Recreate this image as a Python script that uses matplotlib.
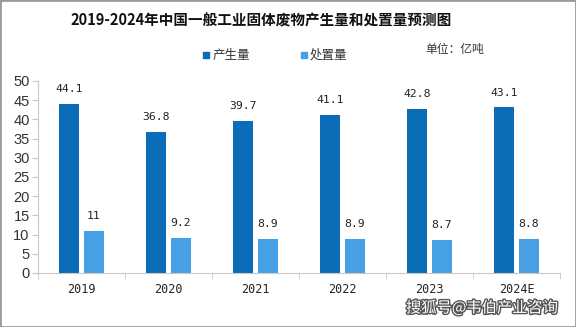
import matplotlib
matplotlib.use("Agg")
import matplotlib.pyplot as plt
import matplotlib.patheffects as pe
from matplotlib.patches import Rectangle
import numpy as np

plt.rcParams['font.family'] = ['Noto Sans CJK SC', 'DejaVu Sans']

years = ["2019", "2020", "2021", "2022", "2023", "2024E"]
generated = [44.1, 36.8, 39.7, 41.1, 42.8, 43.1]
disposed = [11, 9.2, 8.9, 8.9, 8.7, 8.8]
generated_labels = ["44.1", "36.8", "39.7", "41.1", "42.8", "43.1"]
disposed_labels = ["11", "9.2", "8.9", "8.9", "8.7", "8.8"]
yticks = [0, 5, 10, 15, 20, 25, 30, 35, 40, 45, 50]

c_dark = "#0b6cb7"
c_light = "#47a0e3"
axis_grey = "#c8c8c8"

fig = plt.figure(figsize=(5.76, 3.27), dpi=100)
ax = fig.add_axes([38 / 576, 1 - 273 / 327, 522 / 576, 192 / 327])

x = np.arange(len(years))
w = 0.23
off = 0.14
b1 = ax.bar(x - off, generated, width=w, color=c_dark)
b2 = ax.bar(x + off, disposed, width=w, color=c_light)

for bars, labels in ((b1, generated_labels), (b2, disposed_labels)):
    for rect, lab in zip(bars, labels):
        ax.annotate(lab, (rect.get_x() + rect.get_width() / 2, rect.get_height()),
                    xytext=(0, 7), textcoords="offset points", ha="center", va="bottom",
                    fontsize=8.2, family="DejaVu Sans Mono", color="#222222")

ax.set_xlim(-0.5, len(years) - 0.5)
ax.set_ylim(0, 50)
ax.set_yticks(yticks)
ax.set_yticklabels([str(t) for t in yticks], fontsize=10.5, color="#333333",
                   family="Liberation Sans")
ax.set_xticks(x)
ax.set_xticklabels(years, fontsize=8.5, color="#222222", family="DejaVu Sans Mono")
ax.tick_params(axis="x", length=0, pad=7)
ax.set_xticks(np.arange(-0.5, len(years)), minor=True)
ax.tick_params(axis="x", which="minor", length=4, color=axis_grey, direction="out")
ax.tick_params(axis="y", length=4, color=axis_grey, pad=2)

for s in ["top", "right"]:
    ax.spines[s].set_visible(False)
ax.spines["left"].set_color(axis_grey)
ax.spines["bottom"].set_color(axis_grey)

fig.text(261 / 576, 1 - 20 / 327, "2019-2024年中国一般工业固体废物产生量和处置量预测图",
         ha="center", va="center", fontsize=10.5, fontweight="bold", color="#111111")

# legend
fig.patches.append(Rectangle((203 / 576, 1 - 58 / 327), 6 / 576, 6 / 327,
                             transform=fig.transFigure, color=c_dark))
fig.text(213 / 576, 1 - 55 / 327, "产生量", ha="left", va="center", fontsize=9, color="#333333")
fig.patches.append(Rectangle((301 / 576, 1 - 58 / 327), 6 / 576, 6 / 327,
                             transform=fig.transFigure, color=c_light))
fig.text(310 / 576, 1 - 55 / 327, "处置量", ha="left", va="center", fontsize=9, color="#333333")
fig.text(425 / 576, 1 - 49 / 327, "单位：亿吨", ha="left", va="center", fontsize=8.5, color="#333333")

fig.text(406 / 576, 1 - 308 / 327, "搜狐号@韦伯产业咨询", ha="left", va="center",
         fontsize=11, color="white",
         path_effects=[pe.withStroke(linewidth=2, foreground="#555555")])

# outer frame
fig.patches.append(Rectangle((0, 0), 1, 1, transform=fig.transFigure, fill=False,
                             edgecolor="#9a9a9a", linewidth=2))

fig.savefig("out.png", dpi=100)
